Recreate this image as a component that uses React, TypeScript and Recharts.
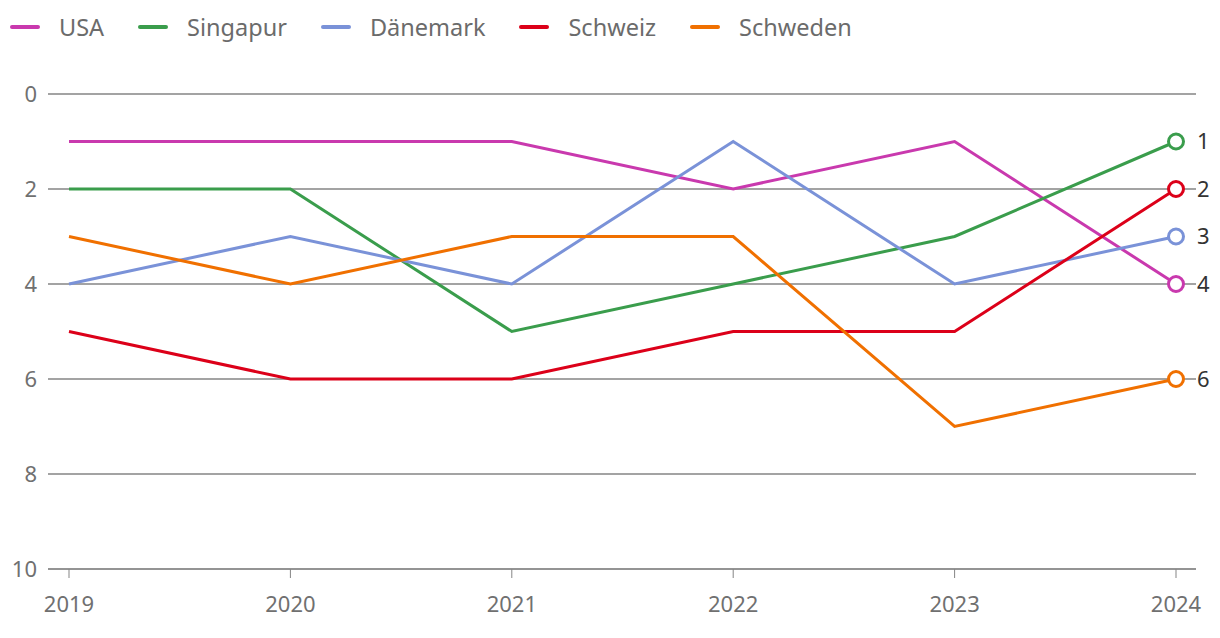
import React from "react";
import { LineChart, Line, XAxis, YAxis, CartesianGrid, Legend } from "recharts";

const years = ["2019", "2020", "2021", "2022", "2023", "2024"];
const usa = [1, 1, 1, 2, 1, 4];
const singapur = [2, 2, 5, 4, 3, 1];
const daenemark = [4, 3, 4, 1, 4, 3];
const schweiz = [5, 6, 6, 5, 5, 2];
const schweden = [3, 4, 3, 3, 7, 6];
const yTicks = [0, 2, 4, 6, 8, 10];

const series = [
  { key: "usa", name: "USA", color: "#c939ae", values: usa },
  { key: "singapur", name: "Singapur", color: "#3a9d4c", values: singapur },
  { key: "daenemark", name: "Dänemark", color: "#7a92d8", values: daenemark },
  { key: "schweiz", name: "Schweiz", color: "#dc0019", values: schweiz },
  { key: "schweden", name: "Schweden", color: "#f07000", values: schweden },
];

const data = years.map((year, i) => {
  const row: Record<string, string | number> = { year };
  series.forEach((s) => {
    row[s.key] = s.values[i];
  });
  return row;
});

const FONT = "'Noto Sans', sans-serif";
const lastIndex = years.length - 1;

function EndDot(props: any) {
  const { cx, cy, index, stroke, value } = props;
  if (index !== lastIndex) return <g key={`d-${index}`} />;
  return (
    <g key={`d-${index}`}>
      <circle cx={cx} cy={cy} r={7.5} fill="#fff" stroke={stroke} strokeWidth={3} />
      <text x={cx + 21} y={cy} dy="0.35em" fontSize={22} fill="#333" fontFamily={FONT}>
        {Array.isArray(value) ? value[1] : value}
      </text>
    </g>
  );
}

function LegendContent() {
  return (
    <div style={{ display: "flex", alignItems: "center", height: 54, paddingLeft: 10, fontFamily: FONT }}>
      {series.map((s) => (
        <div key={s.key} style={{ display: "flex", alignItems: "center", marginRight: 34 }}>
          <span style={{ display: "inline-block", width: 30, height: 4, borderRadius: 2, background: s.color }} />
          <span style={{ marginLeft: 19, fontSize: 23.5, color: "#6b6b6b" }}>{s.name}</span>
        </div>
      ))}
    </div>
  );
}

export default function App() {
  return (
    <div style={{ position: "absolute", left: 0, top: 0, width: 1220, height: 638, background: "#fff" }}>
      <LineChart width={1220} height={638} data={data} margin={{ top: 40, right: 24, left: 0, bottom: 19 }}>
        <Legend verticalAlign="top" align="left" content={<LegendContent />} wrapperStyle={{ top: 0, left: 0 }} />
        <CartesianGrid vertical={false} stroke="#858585" strokeWidth={1.5} />
        <XAxis
          dataKey="year"
          height={50}
          padding={{ left: 21, right: 20 }}
          stroke="#858585"
          tickSize={9}
          tickMargin={18}
          tick={{ fontSize: 22, fill: "#707070", fontFamily: FONT }}
        />
        <YAxis
          width={48}
          reversed
          domain={[0, 10]}
          ticks={yTicks}
          axisLine={false}
          tickLine={false}
          tickMargin={5}
          tick={{ fontSize: 22, fill: "#707070", fontFamily: FONT }}
        />
        {series.map((s) => (
          <Line
            key={s.key}
            type="linear"
            dataKey={s.key}
            name={s.name}
            stroke={s.color}
            strokeWidth={3}
            dot={EndDot}
            activeDot={false}
            isAnimationActive={false}
          />
        ))}
      </LineChart>
    </div>
  );
}
